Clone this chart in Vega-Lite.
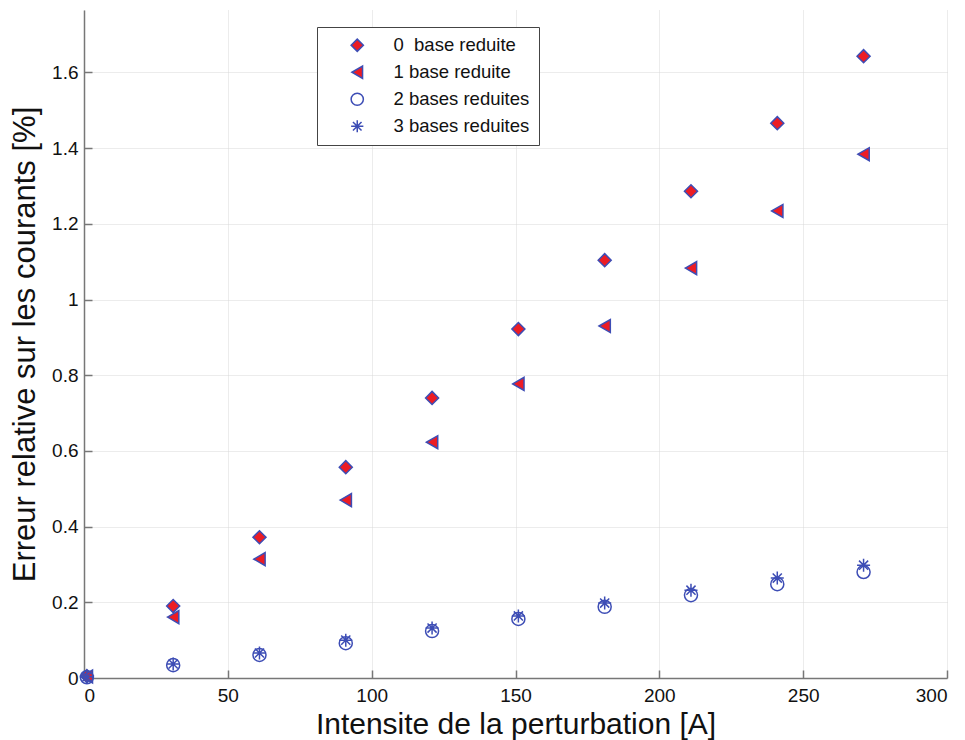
{
  "$schema": "https://vega.github.io/schema/vega-lite/v6.json",
  "width": 863,
  "height": 668,
  "padding": {"left": 84, "top": 10, "right": 18, "bottom": 62},
  "autosize": {"type": "none"},
  "background": "white",
  "config": {
    "view": {"stroke": null},
    "font": "Liberation Sans"
  },
  "data": {
    "values": [
      {"x": 1, "y": 0.005, "s": "0\u00a0 base reduite"},
      {"x": 31, "y": 0.19, "s": "0\u00a0 base reduite"},
      {"x": 61, "y": 0.372, "s": "0\u00a0 base reduite"},
      {"x": 91, "y": 0.557, "s": "0\u00a0 base reduite"},
      {"x": 121, "y": 0.74, "s": "0\u00a0 base reduite"},
      {"x": 151, "y": 0.922, "s": "0\u00a0 base reduite"},
      {"x": 181, "y": 1.104, "s": "0\u00a0 base reduite"},
      {"x": 211, "y": 1.286, "s": "0\u00a0 base reduite"},
      {"x": 241, "y": 1.466, "s": "0\u00a0 base reduite"},
      {"x": 271, "y": 1.643, "s": "0\u00a0 base reduite"},
      {"x": 1, "y": 0.004, "s": "1 base reduite"},
      {"x": 31, "y": 0.161, "s": "1 base reduite"},
      {"x": 61, "y": 0.314, "s": "1 base reduite"},
      {"x": 91, "y": 0.47, "s": "1 base reduite"},
      {"x": 121, "y": 0.623, "s": "1 base reduite"},
      {"x": 151, "y": 0.777, "s": "1 base reduite"},
      {"x": 181, "y": 0.93, "s": "1 base reduite"},
      {"x": 211, "y": 1.083, "s": "1 base reduite"},
      {"x": 241, "y": 1.234, "s": "1 base reduite"},
      {"x": 271, "y": 1.384, "s": "1 base reduite"},
      {"x": 1, "y": 0.002, "s": "2 bases reduites"},
      {"x": 31, "y": 0.034, "s": "2 bases reduites"},
      {"x": 61, "y": 0.061, "s": "2 bases reduites"},
      {"x": 91, "y": 0.092, "s": "2 bases reduites"},
      {"x": 121, "y": 0.124, "s": "2 bases reduites"},
      {"x": 151, "y": 0.156, "s": "2 bases reduites"},
      {"x": 181, "y": 0.188, "s": "2 bases reduites"},
      {"x": 211, "y": 0.219, "s": "2 bases reduites"},
      {"x": 241, "y": 0.248, "s": "2 bases reduites"},
      {"x": 271, "y": 0.28, "s": "2 bases reduites"},
      {"x": 1, "y": 0.003, "s": "3 bases reduites"},
      {"x": 31, "y": 0.037, "s": "3 bases reduites"},
      {"x": 61, "y": 0.066, "s": "3 bases reduites"},
      {"x": 91, "y": 0.1, "s": "3 bases reduites"},
      {"x": 121, "y": 0.132, "s": "3 bases reduites"},
      {"x": 151, "y": 0.164, "s": "3 bases reduites"},
      {"x": 181, "y": 0.198, "s": "3 bases reduites"},
      {"x": 211, "y": 0.232, "s": "3 bases reduites"},
      {"x": 241, "y": 0.264, "s": "3 bases reduites"},
      {"x": 271, "y": 0.298, "s": "3 bases reduites"}
    ]
  },
  "mark": {"type": "point", "size": 170, "strokeWidth": 1.5, "opacity": 1},
  "encoding": {
    "x": {
      "field": "x", "type": "quantitative",
      "scale": {"domain": [0, 300], "nice": false, "zero": false},
      "axis": {
        "title": "Intensite de la perturbation [A]",
        "values": [0, 50, 100, 150, 200, 250, 300],
        "grid": true, "gridColor": "#d8d8d8", "gridDash": [1, 1],
        "domainColor": "#777", "domainWidth": 1.5,
        "tickColor": "#777", "tickSize": -8, "tickWidth": 1.5,
        "labelFontSize": 19, "labelColor": "#111", "labelPadding": 16,
        "titleFontSize": 30, "titleFontWeight": "normal", "titleColor": "#111", "titlePadding": 4
      }
    },
    "y": {
      "field": "y", "type": "quantitative",
      "scale": {"domain": [0, 1.765], "nice": false, "zero": false},
      "axis": {
        "title": "Erreur relative sur les courants [%]",
        "values": [0, 0.2, 0.4, 0.6, 0.8, 1, 1.2, 1.4, 1.6],
        "format": ".1~f",
        "grid": true, "gridColor": "#d8d8d8", "gridDash": [1, 1],
        "domainColor": "#777", "domainWidth": 1.5,
        "tickColor": "#777", "tickSize": -8, "tickWidth": 1.5,
        "labelFontSize": 19, "labelColor": "#111", "labelPadding": 14,
        "titleFontSize": 31, "titleFontWeight": "normal", "titleColor": "#111", "titlePadding": 10,
        "titleY": 334
      }
    },
    "shape": {
      "field": "s", "type": "nominal",
      "scale": {
        "domain": ["0\u00a0 base reduite", "1 base reduite", "2 bases reduites", "3 bases reduites"],
        "range": ["diamond", "triangle-left", "circle", "M-1,0L1,0M0,-1L0,1M-0.7,-0.7L0.7,0.7M-0.7,0.7L0.7,-0.7"]
      },
      "legend": {
        "title": null,
        "orient": "none", "legendX": 233, "legendY": 17,
        "fillColor": "white", "strokeColor": "#444", "padding": 9,
        "labelFontSize": 18.5, "labelColor": "#111", "symbolSize": 150,
        "rowPadding": 8, "symbolOffset": 22, "labelOffset": 27, "symbolStrokeWidth": 1.5
      }
    },
    "fill": {
      "field": "s", "type": "nominal",
      "scale": {
        "domain": ["0\u00a0 base reduite", "1 base reduite", "2 bases reduites", "3 bases reduites"],
        "range": ["#ec1c24", "#ec1c24", "transparent", "transparent"]
      },
      "legend": {
        "title": null,
        "orient": "none", "legendX": 233, "legendY": 17,
        "fillColor": "white", "strokeColor": "#444", "padding": 9,
        "labelFontSize": 18.5, "labelColor": "#111", "symbolSize": 150,
        "rowPadding": 8, "symbolOffset": 22, "labelOffset": 27, "symbolStrokeWidth": 1.5
      }
    },
    "stroke": {
      "field": "s", "type": "nominal",
      "scale": {
        "domain": ["0\u00a0 base reduite", "1 base reduite", "2 bases reduites", "3 bases reduites"],
        "range": ["#3d4db5", "#3d4db5", "#3d4db5", "#3d4db5"]
      },
      "legend": {
        "title": null,
        "orient": "none", "legendX": 233, "legendY": 17,
        "fillColor": "white", "strokeColor": "#444", "padding": 9,
        "labelFontSize": 18.5, "labelColor": "#111", "symbolSize": 150,
        "rowPadding": 8, "symbolOffset": 22, "labelOffset": 27, "symbolStrokeWidth": 1.5
      }
    }
  }
}
